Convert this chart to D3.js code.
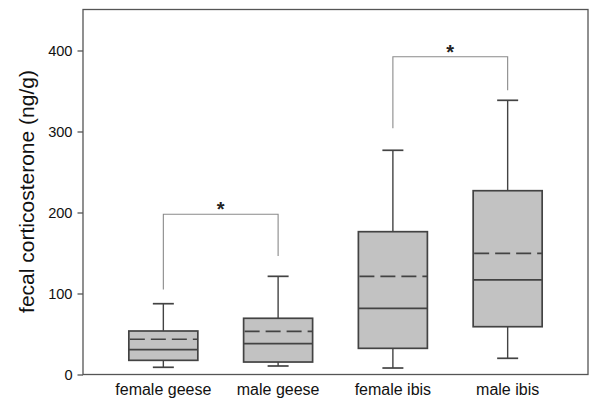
<!DOCTYPE html>
<html><head><meta charset="utf-8">
<script src="https://cdn.jsdelivr.net/npm/d3@7"></script>
<style>body{margin:0;background:#fff}svg{display:block}</style>
</head><body>
<script>
const categories = ["female geese", "male geese", "female ibis", "male ibis"];
const whiskerLow = [8.9, 10.5, 8, 20];
const q1 = [17.5, 15.4, 32.3, 59];
const median = [30.6, 38, 81.7, 116.7];
const mean = [43.5, 53.3, 121.2, 149.6];
const q3 = [53.7, 69.4, 176.3, 226.9];
const whiskerHigh = [87.4, 121.2, 276.8, 338.5];
const yTicks = [0, 100, 200, 300, 400];
// significance brackets
const bracketFrom = [0, 2];
const bracketTo = [1, 3];
const bracketTop = [197.8, 392.3];
const bracketLeftEnd = [105, 304];
const bracketRightEnd = [146.3, 351];

const W = 590, H = 401;
const m = {left: 83, right: 2, top: 9.5, bottom: 26.5};
const svg = d3.select("body").append("svg").attr("width", W).attr("height", H);

const x = d3.scalePoint().domain(categories).range([m.left, W - m.right]).padding(0.7);
const y = d3.scaleLinear().domain([0, 450.6]).range([H - m.bottom, m.top]);
const font = "Arial, 'Liberation Sans', sans-serif";

const axisColor = "#555";
svg.append("rect").attr("x", m.left).attr("y", m.top)
  .attr("width", W - m.right - m.left).attr("height", H - m.bottom - m.top)
  .attr("fill", "none").attr("stroke", axisColor).attr("stroke-width", 1.3);

const ya = svg.append("g").attr("transform", `translate(${m.left},0)`)
  .call(d3.axisLeft(y).tickValues(yTicks).tickSize(5.5).tickPadding(5));
ya.select(".domain").remove();
ya.selectAll("line").attr("stroke", axisColor).attr("stroke-width", 1.3);
ya.selectAll("text").attr("font-family", font).attr("font-size", 14.6).attr("fill", "#111");

svg.append("g").selectAll("text").data(categories).join("text")
  .attr("x", d => x(d)).attr("y", 395)
  .attr("text-anchor", "middle")
  .attr("font-family", font).attr("font-size", 16).attr("fill", "#111").text(d => d);

svg.append("text")
  .attr("transform", `translate(34,191.5) rotate(-90)`)
  .attr("text-anchor", "middle")
  .attr("font-family", font).attr("font-size", 21).attr("fill", "#111")
  .text("fecal corticosterone (ng/g)");

const bw = 69, cw = 21;
const stroke = "#434343";
const g = svg.append("g");
categories.forEach((c, i) => {
  const cx = x(c);
  g.append("line").attr("x1", cx).attr("x2", cx).attr("y1", y(whiskerHigh[i])).attr("y2", y(q3[i]))
    .attr("stroke", stroke).attr("stroke-width", 1.4);
  g.append("line").attr("x1", cx).attr("x2", cx).attr("y1", y(whiskerLow[i])).attr("y2", y(q1[i]))
    .attr("stroke", stroke).attr("stroke-width", 1.4);
  g.append("line").attr("x1", cx - cw/2).attr("x2", cx + cw/2).attr("y1", y(whiskerHigh[i])).attr("y2", y(whiskerHigh[i]))
    .attr("stroke", stroke).attr("stroke-width", 1.7);
  g.append("line").attr("x1", cx - cw/2).attr("x2", cx + cw/2).attr("y1", y(whiskerLow[i])).attr("y2", y(whiskerLow[i]))
    .attr("stroke", stroke).attr("stroke-width", 1.7);
  g.append("rect").attr("x", cx - bw/2).attr("y", y(q3[i])).attr("width", bw)
    .attr("height", y(q1[i]) - y(q3[i]))
    .attr("fill", "#c2c2c2").attr("stroke", stroke).attr("stroke-width", 1.7);
  g.append("line").attr("x1", cx - bw/2).attr("x2", cx + bw/2).attr("y1", y(median[i])).attr("y2", y(median[i]))
    .attr("stroke", stroke).attr("stroke-width", 1.7);
  g.append("line").attr("x1", cx - bw/2 + 1).attr("x2", cx + bw/2).attr("y1", y(mean[i])).attr("y2", y(mean[i]))
    .attr("stroke", stroke).attr("stroke-width", 1.7).attr("stroke-dasharray", "15,6");
});

bracketFrom.forEach((f, k) => {
  const x1 = x(categories[f]), x2 = x(categories[bracketTo[k]]);
  const path = d3.path();
  path.moveTo(x1, y(bracketLeftEnd[k]));
  path.lineTo(x1, y(bracketTop[k]));
  path.lineTo(x2, y(bracketTop[k]));
  path.lineTo(x2, y(bracketRightEnd[k]));
  g.append("path").attr("d", path.toString()).attr("fill", "none")
    .attr("stroke", "#8a8a8a").attr("stroke-width", 1.1);
  g.append("text").attr("x", (x1 + x2)/2).attr("y", y(bracketTop[k]) + 2)
    .attr("text-anchor", "middle")
    .attr("font-family", font)
    .attr("font-weight", "bold").attr("font-size", 20).attr("fill", "#222").text("*");
});
</script>
</body></html>
